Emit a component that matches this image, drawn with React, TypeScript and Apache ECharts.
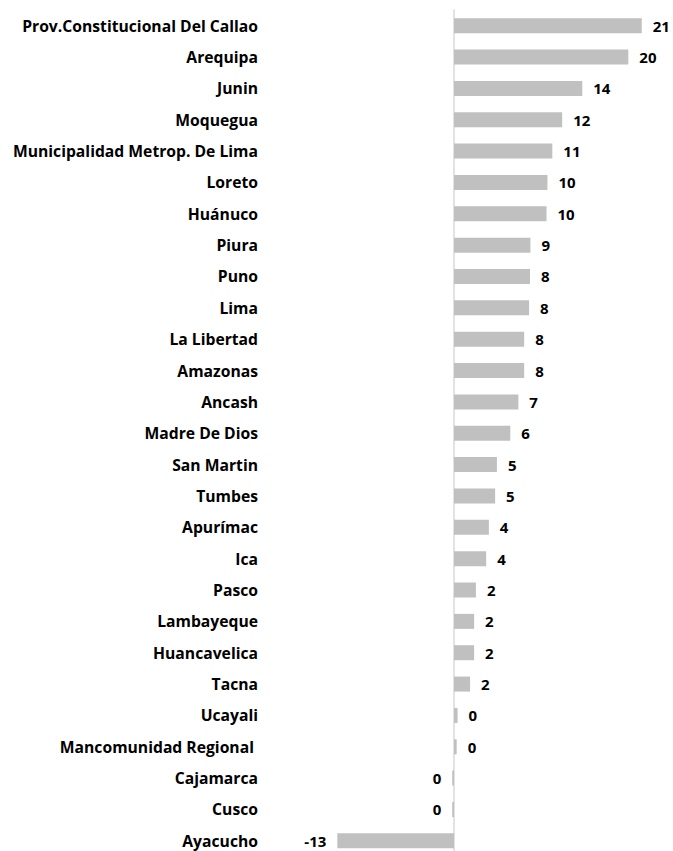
import React, { useEffect, useRef } from "react";
import * as echarts from "echarts";

const categories = [
  "Prov.Constitucional Del Callao",
  "Arequipa",
  "Junin",
  "Moquegua",
  "Municipalidad Metrop. De Lima",
  "Loreto",
  "Huánuco",
  "Piura",
  "Puno",
  "Lima",
  "La Libertad",
  "Amazonas",
  "Ancash",
  "Madre De Dios",
  "San Martin",
  "Tumbes",
  "Apurímac",
  "Ica",
  "Pasco",
  "Lambayeque",
  "Huancavelica",
  "Tacna",
  "Ucayali",
  "Mancomunidad Regional ",
  "Cajamarca",
  "Cusco",
  "Ayacucho",
];

// bar lengths
const values = [
  21.0, 19.5, 14.35, 12.1, 11.0, 10.45, 10.35, 8.55, 8.5, 8.4, 7.85, 7.85, 7.2,
  6.3, 4.8, 4.6, 3.9, 3.6, 2.45, 2.25, 2.25, 1.8, 0.4, 0.3, -0.2, -0.2, -13.05,
];

// value labels as printed in the picture
const valueLabels = [
  "21", "20", "14", "12", "11", "10", "10", "9", "8", "8", "8", "8", "7", "6",
  "5", "5", "4", "4", "2", "2", "2", "2", "0", "0", "0", "0", "-13",
];

export default function App() {
  const ref = useRef<HTMLDivElement>(null);
  useEffect(() => {
    if (!ref.current) return;
    const chart = echarts.init(ref.current, null, { renderer: "svg" });
    const font = "'Open Sans', Lato, sans-serif";
    const pxPerUnit = 8.94;
    const zeroX = 454;
    const xMin = -15;
    const xMax = 24;
    const left = zeroX + xMin * pxPerUnit;
    const width = (xMax - xMin) * pxPerUnit;
    chart.setOption({
      animation: false,
      backgroundColor: "#ffffff",
      grid: {
        left,
        width,
        top: 10,
        height: 846.5,
        containLabel: false,
        outerBoundsMode: "none",
      },
      xAxis: {
        type: "value",
        min: xMin,
        max: xMax,
        show: false,
      },
      yAxis: {
        type: "category",
        inverse: true,
        data: categories,
        axisLine: { show: true, onZero: true, lineStyle: { color: "#d9d9d9", width: 1.5 } },
        axisTick: { show: false },
        axisLabel: {
          margin: left - 258,
          color: "#000000",
          fontFamily: font,
          fontWeight: "bold",
          fontSize: 15.7,
        },
      },
      series: [
        {
          type: "bar",
          barWidth: 15,
          itemStyle: { color: "#c0c0c0" },
          data: values.map((v) => ({
            value: v,
            label: {
              show: true,
              position: v < 0 ? "left" : "right",
              distance: 11,
              formatter: (p: any) => valueLabels[p.dataIndex],
              color: "#000000",
              fontFamily: font,
              fontWeight: "bold",
              fontSize: 15,
            },
          })),
        },
      ],
    });
    return () => chart.dispose();
  }, []);
  return (
    <div
      ref={ref}
      style={{ position: "fixed", left: 0, top: 0, width: 673, height: 851 }}
    />
  );
}
